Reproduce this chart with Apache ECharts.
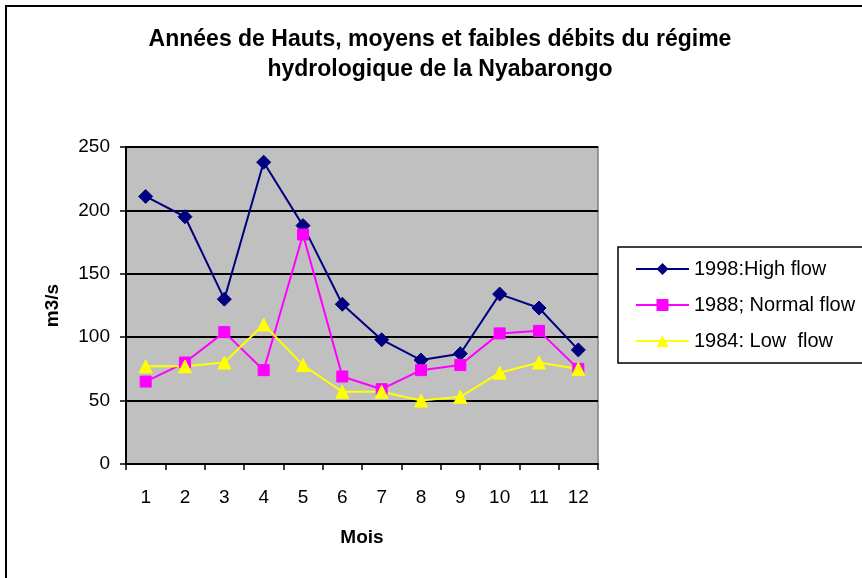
<!DOCTYPE html>
<html>
<head>
<meta charset="utf-8">
<title>Débits de la Nyabarongo</title>
<script src="https://cdn.jsdelivr.net/npm/echarts@6/dist/echarts.min.js"></script>
<style>
  html, body { margin: 0; padding: 0; background: #ffffff; }
  #chart { width: 862px; height: 578px; }
</style>
</head>
<body>
<div id="chart"></div>
<script>
// Monthly discharge (m3/s) of the Nyabarongo for three reference years
const months = ['1', '2', '3', '4', '5', '6', '7', '8', '9', '10', '11', '12'];
const highFlow1998 = [211, 195, 130, 238, 188, 126, 98, 82, 87, 134, 123, 90];
const normalFlow1988 = [65, 80, 104, 74, 181, 69, 59, 74, 78, 103, 105, 75];
const lowFlow1984 = [77, 77, 80, 110, 78, 57, 57, 50, 53, 72, 80, 75];
const seriesNames = ['1998:High flow', '1988; Normal flow', '1984: Low  flow'];
const yTicks = { min: 0, max: 250, step: 50 };
const chartTitle = 'Années de Hauts, moyens et faibles débits du régime\nhydrologique de la Nyabarongo';

const FONT = '"Liberation Sans", Arial, sans-serif';
const chart = echarts.init(document.getElementById('chart'), null, { renderer: 'canvas' });

chart.setOption({
  animation: false,
  backgroundColor: '#ffffff',
  textStyle: { fontFamily: FONT },
  graphic: [
    {
      // outer chart frame (runs past the right and bottom edges)
      type: 'rect',
      shape: { x: 6, y: 6, width: 900, height: 620 },
      style: { fill: 'none', stroke: '#000000', lineWidth: 2 },
      silent: true,
      z: -10
    },
    {
      // legend frame
      type: 'rect',
      shape: { x: 618, y: 247, width: 300, height: 116 },
      style: { fill: '#ffffff', stroke: '#000000', lineWidth: 1.5 },
      silent: true,
      z: -5
    },
    {
      type: 'text',
      x: 440,
      y: 25,
      style: {
        text: chartTitle,
        textAlign: 'center',
        textVerticalAlign: 'top',
        font: 'bold 23px ' + FONT,
        lineHeight: 30,
        fill: '#000000'
      },
      silent: true
    }
  ],
  legend: {
    orient: 'vertical',
    left: 618,
    top: 247,
    padding: [12, 10, 11, 17],
    itemGap: 16,
    itemWidth: 53,
    itemHeight: 15,
    textStyle: { fontFamily: FONT, fontSize: 20, color: '#000000' },
    data: seriesNames
  },
  grid: {
    show: true,
    left: 126,
    top: 147,
    right: 264,
    bottom: 114,
    backgroundColor: '#c0c0c0',
    borderColor: '#808080',
    borderWidth: 1.5
  },
  xAxis: {
    type: 'category',
    data: months,
    boundaryGap: true,
    name: 'Mois',
    nameLocation: 'middle',
    nameGap: 64,
    nameTextStyle: { fontFamily: FONT, fontWeight: 'bold', fontSize: 19, color: '#000000' },
    axisLine: { lineStyle: { color: '#000000', width: 2 } },
    axisTick: { show: true, inside: false, length: 6, alignWithLabel: false, lineStyle: { color: '#000000', width: 1.5 } },
    axisLabel: { margin: 24, fontFamily: FONT, fontSize: 19, color: '#000000', interval: 0 },
    splitLine: { show: false }
  },
  yAxis: {
    type: 'value',
    min: yTicks.min,
    max: yTicks.max,
    interval: yTicks.step,
    name: 'm3/s',
    nameLocation: 'middle',
    nameRotate: 90,
    nameGap: 64,
    nameTextStyle: { fontFamily: FONT, fontWeight: 'bold', fontSize: 19, color: '#000000' },
    axisLine: { show: true, lineStyle: { color: '#000000', width: 2 } },
    axisTick: { show: true, inside: false, length: 6, lineStyle: { color: '#000000', width: 1.5 } },
    axisLabel: { margin: 16, fontFamily: FONT, fontSize: 19, color: '#000000' },
    splitLine: { show: true, lineStyle: { color: '#000000', width: 2 } }
  },
  series: [
    {
      name: seriesNames[0],
      type: 'line',
      data: highFlow1998,
      symbol: 'diamond',
      symbolSize: 14,
      lineStyle: { color: '#000080', width: 2 },
      itemStyle: { color: '#000080', borderColor: '#000080' }
    },
    {
      name: seriesNames[1],
      type: 'line',
      data: normalFlow1988,
      symbol: 'rect',
      symbolSize: 11,
      lineStyle: { color: '#ff00ff', width: 2 },
      itemStyle: { color: '#ff00ff', borderColor: '#ff00ff' }
    },
    {
      name: seriesNames[2],
      type: 'line',
      data: lowFlow1984,
      symbol: 'triangle',
      symbolSize: 13,
      lineStyle: { color: '#ffff00', width: 2 },
      itemStyle: { color: '#ffff00', borderColor: '#ffff00' }
    }
  ]
});
</script>
</body>
</html>
